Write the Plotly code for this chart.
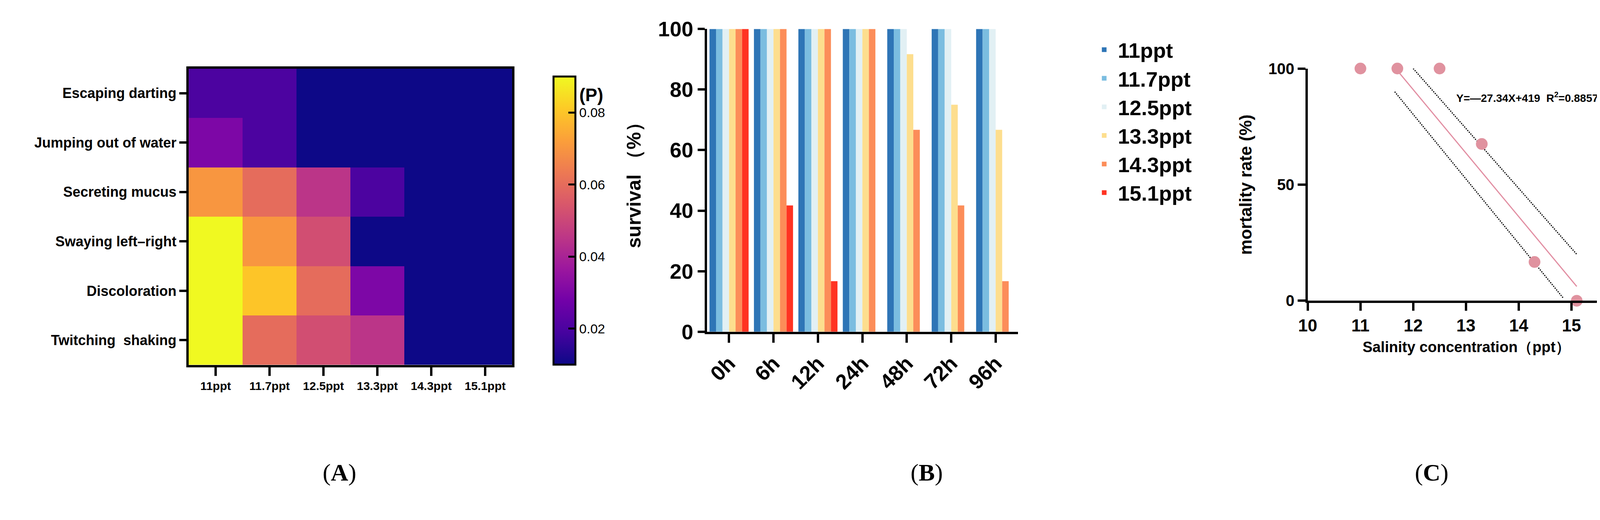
import plotly.graph_objects as go

# Panel A: behaviour heatmap
behaviours = ["Escaping darting", "Jumping out of water", "Secreting mucus",
              "Swaying left\u2013right", "Discoloration", "Twitching  shaking"]
salinity_labels = ["11ppt", "11.7ppt", "12.5ppt", "13.3ppt", "14.3ppt", "15.1ppt"]
p_values = [
    [0.020, 0.020, 0.010, 0.010, 0.010, 0.010],
    [0.030, 0.020, 0.010, 0.010, 0.010, 0.010],
    [0.070, 0.060, 0.045, 0.020, 0.010, 0.010],
    [0.090, 0.070, 0.052, 0.010, 0.010, 0.010],
    [0.090, 0.080, 0.060, 0.030, 0.010, 0.010],
    [0.090, 0.060, 0.052, 0.045, 0.010, 0.010],
]

# Panel B: survival
times = ["0h", "6h", "12h", "24h", "48h", "72h", "96h"]
groups = ["11ppt", "11.7ppt", "12.5ppt", "13.3ppt", "14.3ppt", "15.1ppt"]
group_colors = ["#2E75B6", "#7BBDE0", "#E2F0F4", "#FDDE8E", "#FC8D59", "#FF3322"]
survival = [
    [100, 100, 100, 100, 100, 100, 100],
    [100, 100, 100, 100, 100, 100, 100],
    [100, 100, 100, 100, 100, 100, 100],
    [100, 100, 100, 100, 91.7, 75, 66.7],
    [100, 100, 100, 100, 66.7, 41.7, 16.7],
    [100, 41.7, 16.7, 0, 0, 0, 0],
]

# Panel C: mortality regression
sal_x = [11, 11.7, 12.5, 13.3, 14.3, 15.1]
mortality = [100, 100, 100, 67.5, 16.7, 0]
fit_x = [11.7, 15.1]
fit_y = [-27.34 * x + 419 for x in fit_x]
ci_up_x = [12.0, 15.1]
ci_up_y = [100, 20]
ci_lo_x = [11.65, 14.85]
ci_lo_y = [90, 1]

W, H = 4240, 1332
def fx(px): return px / W
def fy(py): return 1 - py / H

sans = "Liberation Sans"
narrow = "Liberation Sans Narrow, Liberation Sans"

def bf(size, family=sans):
    return dict(size=size, family=family, color="black", weight="bold")

fig = go.Figure()

fig.add_trace(go.Heatmap(
    z=p_values, x=salinity_labels, y=behaviours, colorscale="Plasma",
    zmin=0.01, zmax=0.09, xaxis="x", yaxis="y",
    colorbar=dict(x=fx(1390), xanchor="left", y=fy(552), yanchor="middle",
                  len=(949 - 155) / H, thickness=56, outlinewidth=5, outlinecolor="black",
                  tickvals=[0.02, 0.04, 0.06, 0.08], ticktext=["0.02", "0.04", "0.06", "0.08"],
                  ticks="inside", ticklen=20, tickwidth=5, tickcolor="black",
                  tickfont=dict(size=34, family=sans, color="black")),
))

for g, c, vals in zip(groups, group_colors, survival):
    fig.add_trace(go.Bar(x=times, y=vals, name=g, marker=dict(color=c, line=dict(width=0)),
                         xaxis="x2", yaxis="y2"))

fig.add_trace(go.Scatter(x=ci_up_x, y=ci_up_y, mode="lines", line=dict(color="black", width=3, dash="dot"),
                         xaxis="x3", yaxis="y3", showlegend=False))
fig.add_trace(go.Scatter(x=ci_lo_x, y=ci_lo_y, mode="lines", line=dict(color="black", width=3, dash="dot"),
                         xaxis="x3", yaxis="y3", showlegend=False))
fig.add_trace(go.Scatter(x=fit_x, y=fit_y, mode="lines", line=dict(color="#E28FA3", width=3),
                         xaxis="x3", yaxis="y3", showlegend=False))
fig.add_trace(go.Scatter(x=sal_x, y=mortality, mode="markers", marker=dict(color="#E0929F", size=30),
                         xaxis="x3", yaxis="y3", showlegend=False, cliponaxis=False))

fig.update_layout(
    width=W, height=H, margin=dict(l=0, r=0, t=0, b=0),
    plot_bgcolor="white", paper_bgcolor="white",
    barmode="group", bargap=0.12, bargroupgap=0,
    legend=dict(x=fx(2790), y=fy(50), xanchor="left", yanchor="top",
                font=bf(54, narrow), itemwidth=60, tracegroupgap=50, bgcolor="rgba(0,0,0,0)"),
    xaxis=dict(domain=[fx(456), fx(1293)], showline=True, linewidth=6, linecolor="black", mirror=True,
               ticks="outside", ticklen=22, tickwidth=6, tickcolor="black",
               tickfont=bf(30), anchor="y"),
    yaxis=dict(domain=[fy(939), fy(144)], autorange="reversed", showline=True, linewidth=6,
               linecolor="black", mirror=True, ticks="outside", ticklen=18, tickwidth=6,
               tickcolor="black", tickfont=bf(36), anchor="x"),
    xaxis2=dict(domain=[fx(1797), fx(2602)], anchor="y2", showline=True, linewidth=6, linecolor="black",
                ticks="outside", ticklen=22, tickwidth=6, tickcolor="black", tickangle=-45,
                tickfont=bf(54, narrow)),
    yaxis2=dict(domain=[fy(850), fy(38)], anchor="x2", range=[0, 100], showline=True, linewidth=6,
                linecolor="black", ticks="outside", ticklen=18, tickwidth=6, tickcolor="black",
                showgrid=False, zeroline=False, dtick=20, tickfont=bf(54, narrow),
                title=dict(text="survival （%）", font=bf(50), standoff=30)),
    xaxis3=dict(domain=[fx(3352), fx(4174)], anchor="y3", range=[10, 16.02], dtick=1, showline=True,
                linewidth=6, linecolor="black", ticks="outside", ticklen=20, tickwidth=6, tickcolor="black",
                showgrid=False, zeroline=False, tickfont=bf(44),
                title=dict(text="Salinity concentration（ppt）", font=bf(38), standoff=20)),
    yaxis3=dict(domain=[fy(767), fy(144)], anchor="x3", range=[0, 100], tickvals=[0, 50, 100],
                showline=True, linewidth=6, linecolor="black", ticks="outside", ticklen=20, tickwidth=6,
                tickcolor="black", showgrid=False, zeroline=False, tickfont=bf(40),
                title=dict(text="mortality rate (%)", font=bf(44), standoff=30)),
    annotations=[
        dict(text="(P)", x=fx(1465), y=fy(185), xref="paper", yref="paper", showarrow=False,
             xanchor="left", font=bf(46)),
        dict(text="Y=\u201427.34X+419  R<sup>2</sup>=0.8857", x=fx(3735), y=fy(200), xref="paper",
             yref="paper", showarrow=False, xanchor="left", font=bf(28)),
        dict(text="(<b>A</b>)", x=fx(801), y=fy(1266), xref="paper", yref="paper", showarrow=False,
             font=dict(size=62, family="Liberation Serif", color="black")),
        dict(text="(<b>B</b>)", x=fx(2366), y=fy(1266), xref="paper", yref="paper", showarrow=False,
             font=dict(size=62, family="Liberation Serif", color="black")),
        dict(text="(<b>C</b>)", x=fx(3718), y=fy(1266), xref="paper", yref="paper", showarrow=False,
             font=dict(size=62, family="Liberation Serif", color="black")),
    ],
)

fig.write_html("out.html")
